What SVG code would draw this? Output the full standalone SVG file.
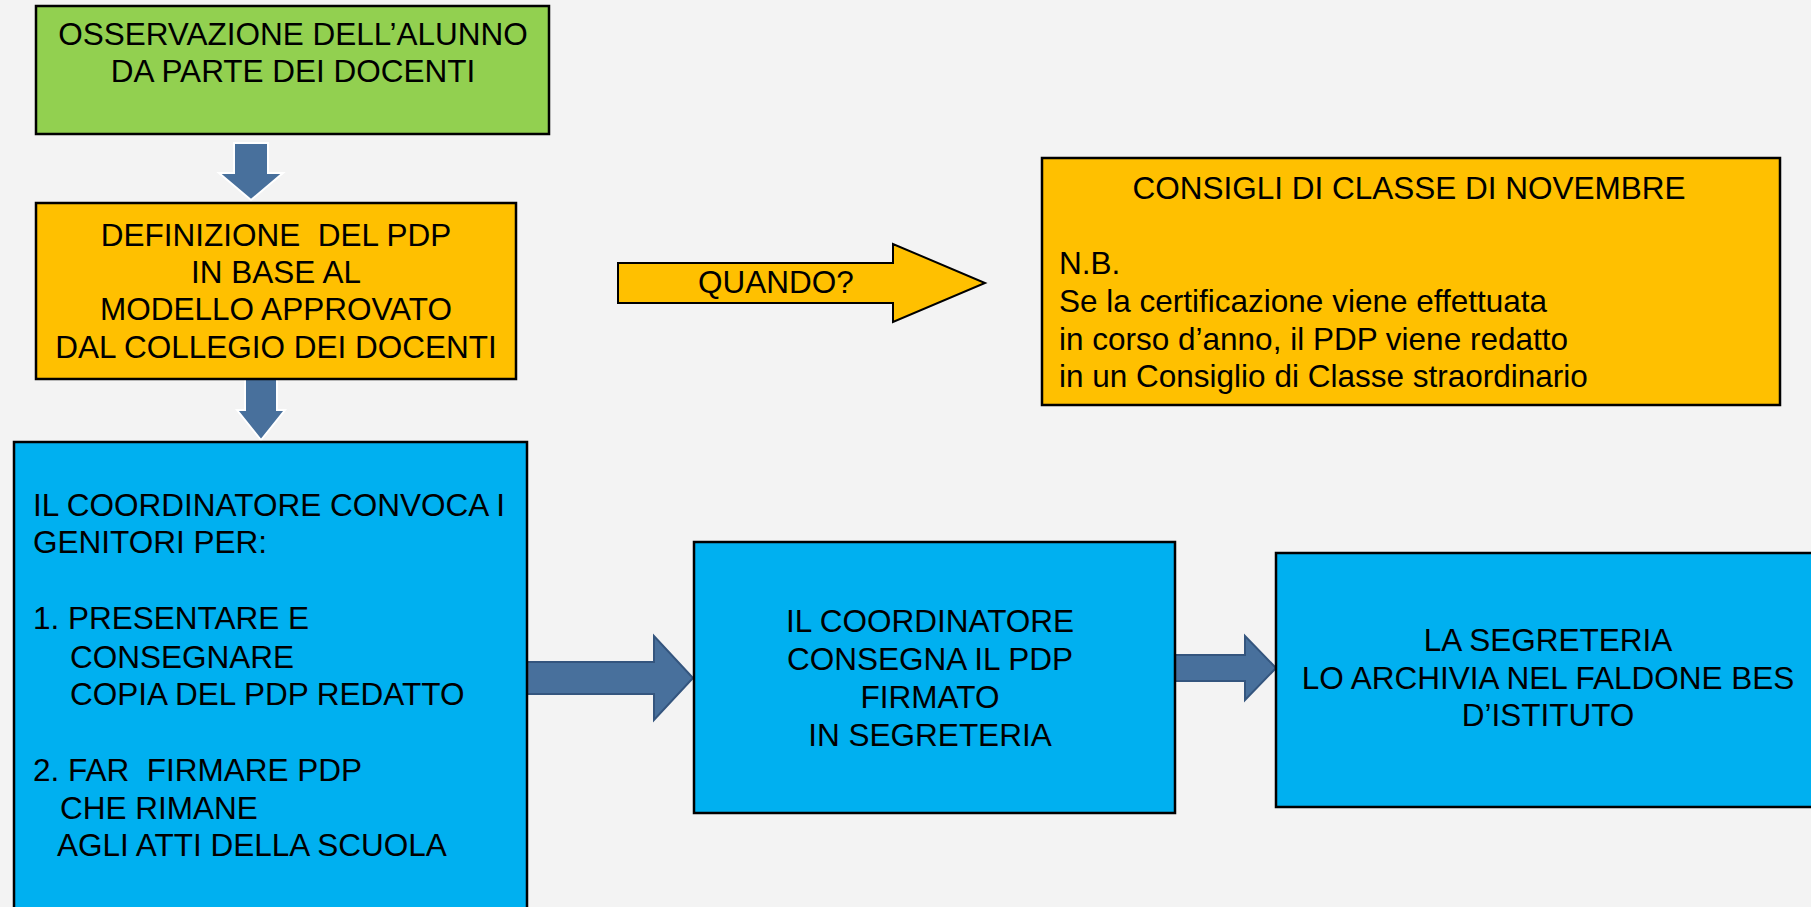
<svg xmlns="http://www.w3.org/2000/svg" width="1811" height="907" viewBox="0 0 1811 907">
<style>
.t{font-family:"Liberation Sans",Arial,sans-serif;font-size:31.5px;fill:#000;white-space:pre}
.c{text-anchor:middle}
.box{stroke:#000;stroke-width:2.5}
.darr{fill:#48709C;stroke:#FFFFFF;stroke-width:2}
.rarr{fill:#48709C;stroke:#34557E;stroke-width:2}
</style>
<rect width="1811" height="907" fill="#F3F3F3"/>
<g id="connectors">
<polygon class="darr" points="234,143 268,143 268,173 283,173 251,200 219,173 234,173"/>
<polygon class="darr" points="245,379 277,379 277,410 285,410 261,440 237,410 245,410"/>
<polygon class="rarr" points="527,662 654,662 654,636 693,678 654,720 654,694 527,694"/>
<polygon class="rarr" points="1175,655 1245,655 1245,636 1276,668 1245,700 1245,681 1175,681"/>
</g>
<g id="quando">
<polygon points="618,263 893,263 893,244 985,283 893,322 893,303 618,303" fill="#FFC000" stroke="#000" stroke-width="2"/>
<text class="t c" x="776" y="293">QUANDO?</text>
</g>
<g id="node-osservazione">
<rect class="box" x="36" y="6" width="513" height="128" fill="#92D050"/>
<text class="t c" x="293" y="45">OSSERVAZIONE DELL’ALUNNO</text>
<text class="t c" x="293" y="82">DA PARTE DEI DOCENTI</text>
</g>
<g id="node-definizione">
<rect class="box" x="36" y="203" width="480" height="176" fill="#FFC000"/>
<text class="t c" x="276" y="246">DEFINIZIONE  DEL PDP</text>
<text class="t c" x="276" y="283">IN BASE AL</text>
<text class="t c" x="276" y="320">MODELLO APPROVATO</text>
<text class="t c" x="276" y="358">DAL COLLEGIO DEI DOCENTI</text>
</g>
<g id="node-consigli">
<rect class="box" x="1042" y="158" width="738" height="247" fill="#FFC000"/>
<text class="t c" x="1409" y="199">CONSIGLI DI CLASSE DI NOVEMBRE</text>
<text class="t" x="1059" y="274">N.B.</text>
<text class="t" x="1059" y="312">Se la certificazione viene effettuata</text>
<text class="t" x="1059" y="350">in corso d’anno, il PDP viene redatto</text>
<text class="t" x="1059" y="387">in un Consiglio di Classe straordinario</text>
</g>
<g id="node-coordinatore-convoca">
<rect class="box" x="14" y="442" width="513" height="480" fill="#00B0F0"/>
<text class="t" x="33" y="516">IL COORDINATORE CONVOCA I</text>
<text class="t" x="33" y="553">GENITORI PER:</text>
<text class="t" x="33" y="629">1. PRESENTARE E</text>
<text class="t" x="70" y="668">CONSEGNARE</text>
<text class="t" x="70" y="705">COPIA DEL PDP REDATTO</text>
<text class="t" x="33" y="781">2. FAR  FIRMARE PDP</text>
<text class="t" x="60" y="819">CHE RIMANE</text>
<text class="t" x="57" y="856">AGLI ATTI DELLA SCUOLA</text>
</g>
<g id="node-coordinatore-consegna">
<rect class="box" x="694" y="542" width="481" height="271" fill="#00B0F0"/>
<text class="t c" x="930" y="632">IL COORDINATORE</text>
<text class="t c" x="930" y="670">CONSEGNA IL PDP</text>
<text class="t c" x="930" y="708">FIRMATO</text>
<text class="t c" x="930" y="746">IN SEGRETERIA</text>
</g>
<g id="node-segreteria">
<rect class="box" x="1276" y="553" width="545" height="254" fill="#00B0F0"/>
<text class="t c" x="1548" y="651">LA SEGRETERIA</text>
<text class="t c" x="1548" y="689">LO ARCHIVIA NEL FALDONE BES</text>
<text class="t c" x="1548" y="726">D’ISTITUTO</text>
</g>
</svg>
